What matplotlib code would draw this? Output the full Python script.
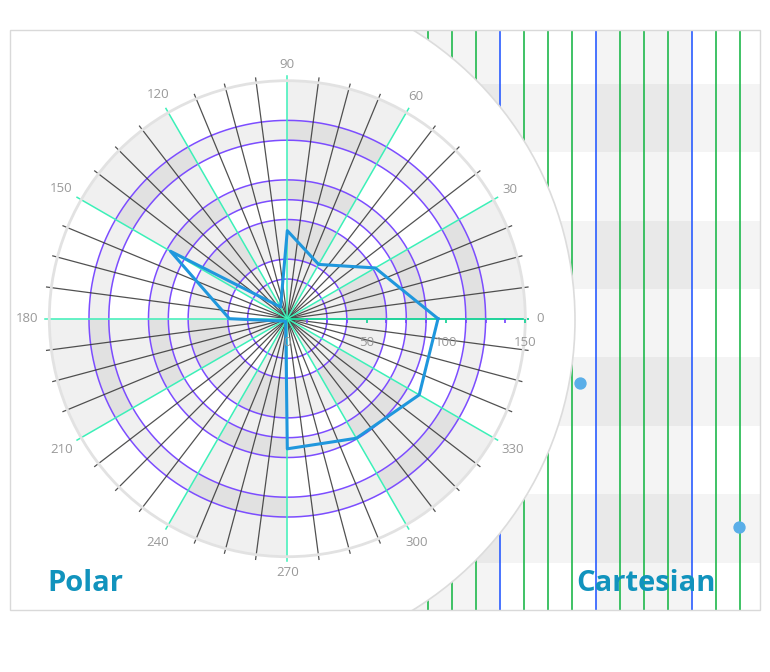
import numpy as np
import matplotlib
matplotlib.use("Agg")
import matplotlib.pyplot as plt
from matplotlib.patches import Ellipse, Arc, Rectangle
from matplotlib.transforms import Bbox, TransformedBbox
from matplotlib.ticker import MultipleLocator

plt.rcParams['font.family'] = ['Open Sans', 'DejaVu Sans']

# polar series (angle in degrees, value on radial axis)
angles = [0, 30, 60, 90, 120, 150, 180, 210, 240, 270, 300, 330]
values = [95, 64, 39.5, 55.5, 8.5, 85, 36.5, 3, 2, 82, 87, 96]

# polar axis setup
r_max = 150
r_labels = [0, 50, 100, 150]
r_minor = [12.5, 25, 37.5, 62.5, 75, 87.5, 112.5, 125, 137.5]
r_circles = [25, 37.5, 62.5, 75, 87.5, 112.5, 125]
r_bands = [(37.5, 62.5), (75, 87.5), (112.5, 125)]
angle_labels = list(range(0, 360, 30))
spoke_step = 7.5

# cartesian series
cart_x = [7.3, 13.95]
cart_y = [2.63, 0.52]
cart_xbands = [(0, 4), (8, 12)]
cart_ybands = [(0, 1), (2, 3), (4, 5), (6, 7)]

W, H = 770, 672


def fx(px):
    return px / W


def fy(py):
    return 1 - py / H


fig = plt.figure(figsize=(W / 100, H / 100), dpi=100)

# ---- cartesian background ----
x0, unit_x = 404.3, 24.0
y0, unit_y = 562.5, 68.35
axc = fig.add_axes([fx(x0), fy(610), (760 - x0) / W, 580 / H])
axc.set_xlim(0, (760 - x0) / unit_x)
axc.set_ylim(-(610 - y0) / unit_y, (y0 - 30) / unit_y)
for a, b in cart_xbands:
    axc.axvspan(a, b, color='k', alpha=0.045, lw=0)
for a, b in cart_ybands:
    axc.axhspan(a, b, color='k', alpha=0.045, lw=0)
axc.xaxis.set_major_locator(MultipleLocator(4))
axc.xaxis.set_minor_locator(MultipleLocator(1))
axc.grid(which='major', axis='x', color='#2a5cff', lw=1.2)
axc.grid(which='minor', axis='x', color='#1fb84c', lw=1.2)
axc.grid(False, axis='y')
axc.tick_params(which='both', length=0, labelbottom=False, labelleft=False)
for s in axc.spines.values():
    s.set_visible(False)
axc.scatter(cart_x, cart_y, s=62, color='#5aaee8', zorder=3, clip_on=False)

# ---- white disc over the cartesian chart ----
frame_box = TransformedBbox(Bbox([[fx(10), fy(610)], [fx(760), fy(30)]]), fig.transFigure)
disc_cx, disc_cy, disc_r = 234.4, 320, 340.6
disc = Ellipse((fx(disc_cx), fy(disc_cy)), 2 * disc_r / W, 2 * disc_r / H,
               transform=fig.transFigure, facecolor='white', edgecolor='none',
               zorder=1)
disc.set_clip_box(frame_box)
fig.patches.append(disc)
rim = Arc((fx(disc_cx), fy(disc_cy)), 2 * disc_r / W, 2 * disc_r / H,
          theta1=-70, theta2=70, transform=fig.transFigure,
          color='#dcdcdc', lw=1.2, zorder=1.1)
rim.set_clip_box(frame_box)
fig.patches.append(rim)

frame = Rectangle((fx(10), fy(610)), 750 / W, 580 / H, transform=fig.transFigure,
                  fill=False, edgecolor='#d9d9d9', lw=1, zorder=3)
fig.patches.append(frame)

# ---- polar chart ----
pcx, pcy, R = 287.3, 318.7, 238
axp = fig.add_axes([fx(pcx - R), fy(pcy + R), 2 * R / W, 2 * R / H], projection='polar')
axp.set_zorder(2)
axp.set_ylim(0, r_max)
axp.set_xticks([])
axp.set_yticks([])
axp.grid(False)
axp.set_facecolor('white')
axp.spines['polar'].set_color('#e2e2e2')
axp.spines['polar'].set_linewidth(2)

# alternating sectors
for k in range(0, 12, 2):
    axp.bar(np.deg2rad(30 * k + 15), r_max, width=np.deg2rad(30), bottom=0,
            color='k', alpha=0.06, lw=0, zorder=0.5)

theta = np.linspace(0, 2 * np.pi, 721)
for a, b in r_bands:
    axp.fill_between(theta, a, b, color='k', alpha=0.06, lw=0, zorder=0.6)

for r in r_circles:
    axp.plot(theta, np.full_like(theta, r), color='#7c4dff', lw=1.1, zorder=1)

spoke_end = 153
for deg in np.arange(0, 360, spoke_step):
    th = np.deg2rad(deg)
    if deg == 0:
        axp.plot([th, th], [0, 152], color='#1fd39a', lw=1.4, zorder=2.5, clip_on=False)
    elif deg % 30 == 0:
        axp.plot([th, th], [0, spoke_end], color='#3cf0b8', lw=1.1, zorder=2.5, clip_on=False)
    else:
        axp.plot([th, th], [0, spoke_end], color='#333333', lw=0.9, alpha=0.85,
                 zorder=2, clip_on=False)

# radial ticks on the 0 axis
axp.plot(np.zeros(len(r_minor)), r_minor, ls='', marker=3, ms=3, mew=1.3,
         color='#7c4dff', zorder=3, clip_on=False)
axp.plot(np.zeros(len(r_labels)), r_labels, ls='', marker=3, ms=3, mew=1.3,
         color='#1fd39a', zorder=3, clip_on=False)

for r in r_labels:
    axp.annotate(str(r), xy=(0, r), xytext=(0, -17.3), textcoords='offset points',
                 ha='center', va='center', color='#999999', fontsize=9.5,
                 annotation_clip=False, zorder=6)

for a in angle_labels:
    th = np.deg2rad(a)
    s = str(a)
    ext = 0.5 * (7.2 * len(s) * abs(np.cos(th)) + 9.5 * abs(np.sin(th)))
    r_txt = (249 + ext) / R * r_max
    axp.text(th, r_txt, s, ha='center', va='center', color='#999999',
             fontsize=9.5, clip_on=False)

# data polygon
th_line = np.deg2rad(angles + [angles[0]])
r_line = values + [values[0]]
axp.plot(th_line, r_line, color='#1f97dd', lw=2.2, zorder=5)

# captions
fig.text(fx(47), fy(591), 'Polar', ha='left', va='baseline', fontsize=21,
         fontweight='bold', color='#1193bd', zorder=4)
fig.text(fx(576), fy(591), 'Cartesian', ha='left', va='baseline', fontsize=21,
         fontweight='bold', color='#1193bd', zorder=4)

fig.savefig('out.png', dpi=100, facecolor='white')
